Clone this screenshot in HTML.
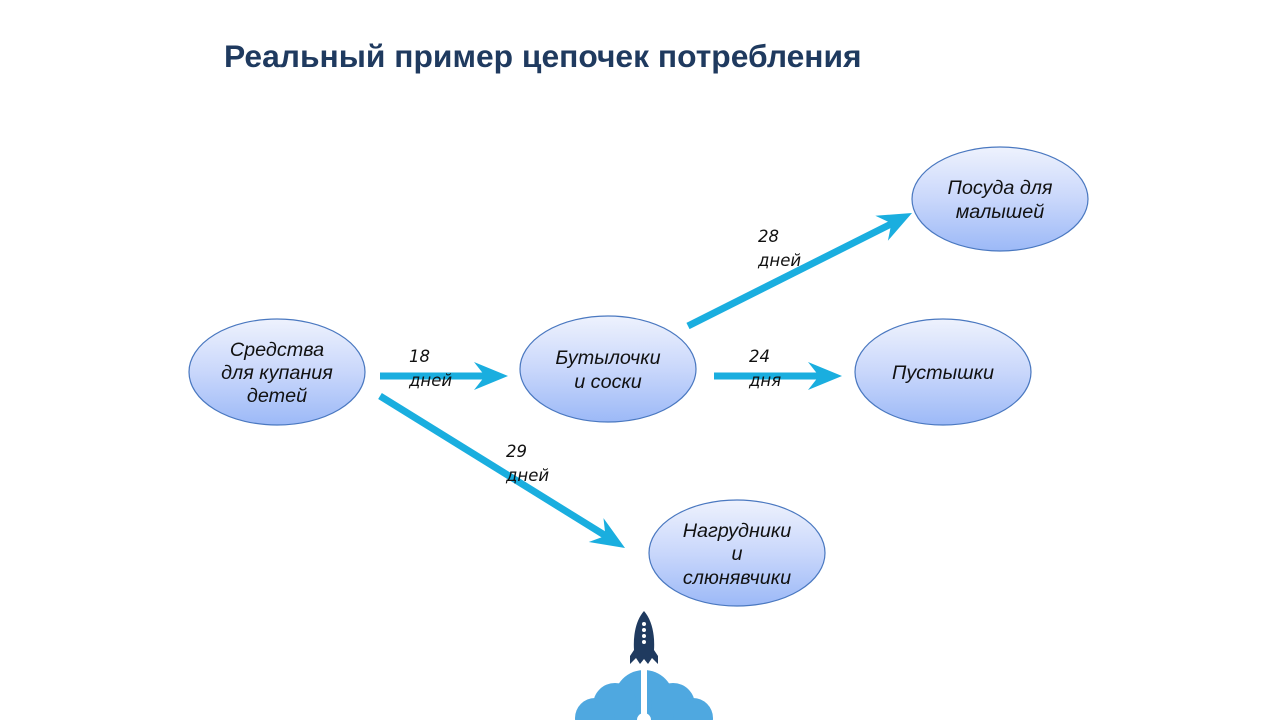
<!DOCTYPE html>
<html><head><meta charset="utf-8"><style>
html,body{margin:0;padding:0;background:#fff;}
svg{display:block}
</style></head><body>
<svg width="1280" height="720" viewBox="0 0 1280 720" xmlns="http://www.w3.org/2000/svg">
<defs>
<linearGradient id="g" x1="0" y1="0" x2="0" y2="1">
<stop offset="0" stop-color="#eef2fd"/>
<stop offset="0.5" stop-color="#c9d7fb"/>
<stop offset="1" stop-color="#9cb9f7"/>
</linearGradient>
<g id="ah"><polygon points="0,0 -34,-14 -23,0 -34,14" fill="#1aaedf"/></g>
</defs>
<text x="224" y="67" font-family="Liberation Sans, sans-serif" font-weight="bold" font-size="31.8" fill="#1f3a5f">Реальный пример цепочек потребления</text>

<g stroke="#4a78c0" stroke-width="1.2" fill="url(#g)">
<ellipse cx="277" cy="372" rx="88" ry="53"/>
<ellipse cx="608" cy="369" rx="88" ry="53"/>
<ellipse cx="1000" cy="199" rx="88" ry="52"/>
<ellipse cx="943" cy="372" rx="88" ry="53"/>
<ellipse cx="737" cy="553" rx="88" ry="53"/>
</g>

<g stroke="#1aaedf" stroke-width="7" fill="none">
<line x1="380" y1="376" x2="488" y2="376"/>
<line x1="714" y1="376" x2="822" y2="376"/>
<line x1="688" y1="326" x2="893" y2="223"/>
<line x1="380" y1="396" x2="606" y2="536"/>
</g>
<use href="#ah" transform="translate(508,376)"/>
<use href="#ah" transform="translate(842,376)"/>
<use href="#ah" transform="translate(912,213) rotate(-26.6)"/>
<use href="#ah" transform="translate(625,548) rotate(31.8)"/>

<g font-family="Liberation Sans, sans-serif" font-style="italic" font-size="19.8" fill="#111" text-anchor="middle">
<text x="277" y="356">Средства</text>
<text x="277" y="379">для купания</text>
<text x="277" y="402">детей</text>
<text x="608" y="364">Бутылочки</text>
<text x="608" y="388">и соски</text>
<text x="1000" y="194">Посуда для</text>
<text x="1000" y="218">малышей</text>
<text x="943" y="379">Пустышки</text>
<text x="737" y="537">Нагрудники</text>
<text x="737" y="560">и</text>
<text x="737" y="584">слюнявчики</text>
</g>
<g font-family="DejaVu Sans, sans-serif" font-style="italic" font-size="16.5" fill="#111">
<text x="409" y="362">18</text><text x="409" y="386">дней</text>
<text x="749" y="362">24</text><text x="749" y="386">дня</text>
<text x="758" y="242">28</text><text x="758" y="266">дней</text>
<text x="506" y="457">29</text><text x="506" y="481">дней</text>
</g>

<g fill="#1f3a5f">
<path d="M644,611 C636,620 633,635 634,650 L630,656 L630,664 L636,658 L640,664 L644,659 L648,664 L652,658 L658,664 L658,656 L654,650 C655,635 652,620 644,611 Z"/>
</g>
<g fill="#fff"><circle cx="644" cy="624" r="2"/><circle cx="644" cy="630" r="2"/><circle cx="644" cy="636" r="2"/><circle cx="644" cy="642" r="2"/></g>
<g fill="#4fa8e0">
<circle cx="644" cy="700" r="30"/>
<circle cx="615" cy="705" r="22"/>
<circle cx="673" cy="705" r="22"/>
<circle cx="595" cy="718" r="20"/>
<circle cx="693" cy="718" r="20"/>
</g>
<rect x="641" y="670" width="6" height="50" fill="#fff"/>
<circle cx="644" cy="720" r="7" fill="#fff"/>
</svg>
</body></html>
